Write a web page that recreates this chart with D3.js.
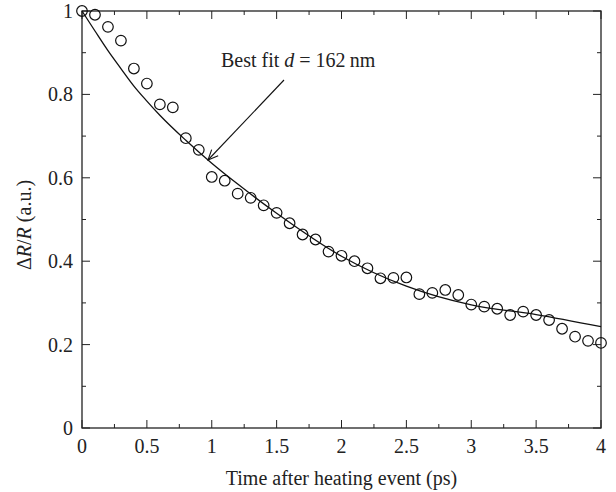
<!DOCTYPE html>
<html><head><meta charset="utf-8">
<script src="https://cdn.jsdelivr.net/npm/d3@7"></script>
<style>html,body{margin:0;padding:0;background:#fff;}svg{display:block;}</style>
</head><body>
<script>
const times = [0,0.1,0.2,0.3,0.4,0.5,0.6,0.7,0.8,0.9,1.0,1.1,1.2,1.3,1.4,1.5,1.6,1.7,1.8,1.9,2.0,2.1,2.2,2.3,2.4,2.5,2.6,2.7,2.8,2.9,3.0,3.1,3.2,3.3,3.4,3.5,3.6,3.7,3.8,3.9,4.0];
const measured = [1.0,0.991,0.962,0.929,0.862,0.826,0.776,0.769,0.695,0.667,0.602,0.593,0.562,0.552,0.534,0.516,0.491,0.464,0.452,0.423,0.413,0.400,0.383,0.359,0.360,0.361,0.321,0.324,0.331,0.319,0.296,0.291,0.286,0.271,0.279,0.271,0.259,0.238,0.219,0.209,0.204];
const fitTimes = [0,0.1,0.2,0.3,0.4,0.5,0.6,0.8,1.0,1.2,1.5,2.0,2.5,3.0,3.5,4.0];
const fitValues = [1.0,0.952,0.905,0.862,0.820,0.784,0.750,0.690,0.635,0.585,0.515,0.412,0.340,0.295,0.272,0.243];
const xTicks = [0,0.5,1,1.5,2,2.5,3,3.5,4];
const yTicks = [0,0.2,0.4,0.6,0.8,1];

const W=616,H=492, L=82,R=601,T=11,B=428;
const svg=d3.select("body").append("svg").attr("width",W).attr("height",H);
const x=d3.scaleLinear().domain([0,4]).range([L,R]);
const y=d3.scaleLinear().domain([0,1]).range([B,T]);
const font="'Liberation Serif', 'DejaVu Serif', serif";
const col="#222";
const fs=20;

// ticks on all sides
const xMinor=d3.range(0,4.001,0.25), yMinor=d3.range(0,1.001,0.1);
const g=svg.append("g").attr("stroke",col).attr("stroke-width",1);
xMinor.forEach(v=>{
  const len = Math.abs(v*2-Math.round(v*2))<1e-6 ? 8 : 4;
  g.append("line").attr("x1",x(v)).attr("x2",x(v)).attr("y1",B).attr("y2",B-len);
  g.append("line").attr("x1",x(v)).attr("x2",x(v)).attr("y1",T).attr("y2",T+len);
});
yMinor.forEach(v=>{
  const len = Math.abs(v*5-Math.round(v*5))<1e-6 ? 8 : 4;
  g.append("line").attr("x1",L).attr("x2",L+len).attr("y1",y(v)).attr("y2",y(v));
  g.append("line").attr("x1",R).attr("x2",R-len).attr("y1",y(v)).attr("y2",y(v));
});
svg.append("rect").attr("x",L).attr("y",T).attr("width",R-L).attr("height",B-T)
  .attr("fill","none").attr("stroke",col).attr("stroke-width",1.3);

// tick labels
svg.append("g").selectAll("text").data(xTicks).join("text")
  .attr("x",d=>x(d)).attr("y",B+25).attr("text-anchor","middle")
  .attr("font-family",font).attr("font-size",fs).attr("fill",col).text(d=>d3.format("")(d));
svg.append("g").selectAll("text").data(yTicks).join("text")
  .attr("x",L-9).attr("y",d=>y(d)+7).attr("text-anchor","end")
  .attr("font-family",font).attr("font-size",fs).attr("fill",col).text(d=>d3.format("")(d));

// fit line
const line=d3.line().x((d,i)=>x(fitTimes[i])).y(d=>y(d)).curve(d3.curveMonotoneX);
svg.append("path").attr("d",line(fitValues)).attr("fill","none").attr("stroke","#111").attr("stroke-width",1.3);

// data circles
svg.append("g").selectAll("circle").data(measured).join("circle")
  .attr("cx",(d,i)=>x(times[i])).attr("cy",d=>y(d)).attr("r",5.3)
  .attr("fill","none").attr("stroke","#111").attr("stroke-width",1.2);

// annotation
const ann=svg.append("text").attr("x",221).attr("y",67).attr("font-family",font).attr("font-size",fs).attr("fill",col);
ann.append("tspan").text("Best fit ");
ann.append("tspan").attr("font-style","italic").text("d");
ann.append("tspan").text(" = 162\u2009nm");
const ax1=284,ay1=80,ax2=208,ay2=160;
svg.append("line").attr("x1",ax1).attr("y1",ay1).attr("x2",ax2).attr("y2",ay2).attr("stroke","#111").attr("stroke-width",1.1);
const ang=Math.atan2(ay2-ay1,ax2-ax1), hl=11, ha=0.42;
svg.append("path").attr("d",`M${ax2-hl*Math.cos(ang-ha)},${ay2-hl*Math.sin(ang-ha)}L${ax2},${ay2}L${ax2-hl*Math.cos(ang+ha)},${ay2-hl*Math.sin(ang+ha)}`)
  .attr("fill","none").attr("stroke","#111").attr("stroke-width",1.1);

// axis titles
svg.append("text").attr("x",(L+R)/2).attr("y",485).attr("text-anchor","middle")
  .attr("font-family",font).attr("font-size",fs).attr("fill",col).text("Time after heating event (ps)");
const yt=svg.append("text").attr("transform",`translate(31,225) rotate(-90)`).attr("text-anchor","middle")
  .attr("font-family",font).attr("font-size",fs).attr("fill",col);
yt.append("tspan").text("\u0394");
yt.append("tspan").attr("font-style","italic").text("R");
yt.append("tspan").text("/");
yt.append("tspan").attr("font-style","italic").text("R");
yt.append("tspan").text(" (a.u.)");
</script>
</body></html>
